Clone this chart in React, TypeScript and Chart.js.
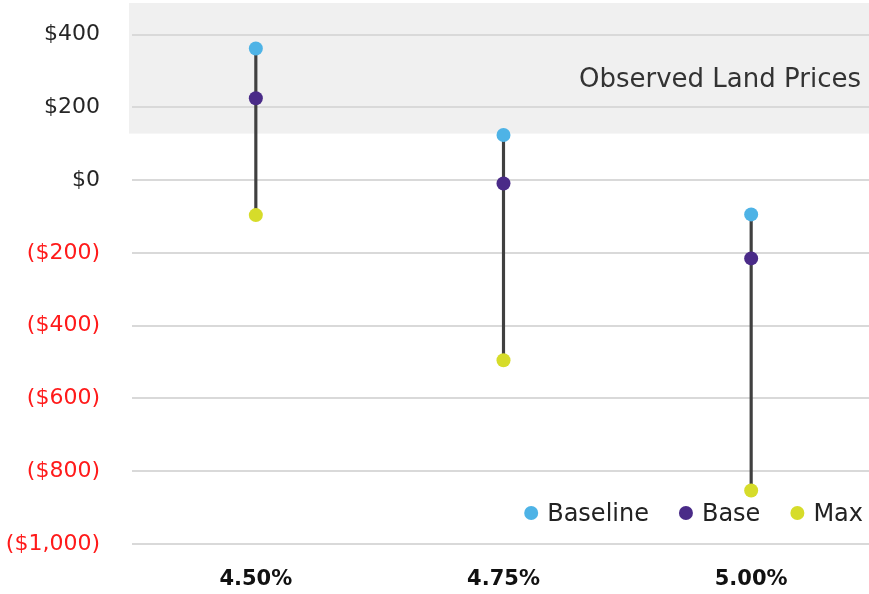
import React, { useEffect, useRef } from "react";
import { Chart, registerables } from "chart.js";

Chart.register(...registerables);

// Land value ranges per discount rate
const categories = ["4.50%", "4.75%", "5.00%"];
const baselineValues = [362, 124, -94];
const baseValues = [225, -9, -215];
const maxValues = [-96, -495, -853];

const seriesLabels = ["Baseline", "Base", "Max"];
const seriesColors = ["#4eb3e6", "#4a2b88", "#d6dc2a"];

// Y axis range and the observed land price band
const yMin = -1000;
const yMax = 487;
const yStep = 200;
const observedBand = [128, 487];
const observedLabel = "Observed Land Prices";

const FONT = "'DejaVu Sans', sans-serif";

const formatMoney = (v: number) =>
  v < 0 ? `($${Math.abs(v).toLocaleString("en-US")})` : `$${v.toLocaleString("en-US")}`;

// Shaded band with its caption, drawn beneath the gridlines
const bandPlugin = {
  id: "observedBand",
  beforeDraw(chart: any) {
    const { ctx, chartArea, scales } = chart;
    const y = scales.y;
    const top = y.getPixelForValue(observedBand[1]);
    const bottom = y.getPixelForValue(observedBand[0]);
    ctx.save();
    ctx.fillStyle = "#f0f0f0";
    ctx.fillRect(chartArea.left - 3, top, chartArea.right - chartArea.left + 3, bottom - top);
    ctx.font = `26px ${FONT}`;
    ctx.fillStyle = "#333333";
    ctx.textAlign = "right";
    ctx.textBaseline = "middle";
    ctx.fillText(observedLabel, 861, (y.getPixelForValue(400) + y.getPixelForValue(200)) / 2 + 9);
    ctx.restore();
  },
};

// Legend drawn inside the plot, bottom right
const innerLegendPlugin = {
  id: "innerLegend",
  afterDraw(chart: any) {
    const { ctx, chartArea } = chart;
    const items = chart.data.datasets.filter((d: any) => seriesLabels.includes(d.label));
    ctx.save();
    ctx.font = `24px ${FONT}`;
    ctx.textBaseline = "middle";
    ctx.textAlign = "left";
    const yc = chartArea.bottom - 31;
    const dotToText = 16;
    const gap = 37;
    let x = 863;
    const placed: { x: number; label: string; color: string }[] = [];
    for (let i = items.length - 1; i >= 0; i--) {
      const w = ctx.measureText(items[i].label).width;
      const textX = x - w;
      placed.unshift({ x: textX, label: items[i].label, color: items[i].backgroundColor });
      x = textX - dotToText - gap;
    }
    for (const p of placed) {
      ctx.fillStyle = p.color;
      ctx.beginPath();
      ctx.arc(p.x - dotToText, yc, 7, 0, Math.PI * 2);
      ctx.fill();
      ctx.fillStyle = "#222222";
      ctx.fillText(p.label, p.x, yc + 2);
    }
    ctx.restore();
  },
};

export default function App() {
  const canvasRef = useRef<HTMLCanvasElement | null>(null);

  useEffect(() => {
    if (!canvasRef.current) return;
    const pointSeries = [baselineValues, baseValues, maxValues].map((data, i) => ({
      type: "line" as const,
      label: seriesLabels[i],
      data,
      showLine: false,
      backgroundColor: seriesColors[i],
      borderColor: seriesColors[i],
      pointRadius: 7,
      pointHoverRadius: 7,
      pointBorderWidth: 0,
      order: 0,
    }));
    const stems = {
      type: "bar" as const,
      label: "range",
      data: categories.map((_, i) => [maxValues[i], baselineValues[i]]),
      backgroundColor: "#404040",
      borderWidth: 0,
      barThickness: 2.5,
      order: 1,
    };

    const chart = new Chart(canvasRef.current, {
      type: "bar",
      data: { labels: categories, datasets: [stems as any, ...pointSeries] },
      plugins: [bandPlugin, innerLegendPlugin],
      options: {
        responsive: false,
        animation: false,
        layout: { padding: 0 },
        plugins: {
          legend: { display: false },
          tooltip: { enabled: false },
        },
        scales: {
          x: {
            grid: { display: false, drawTicks: false },
            border: { display: false },
            ticks: {
              color: "#111111",
              font: { family: FONT, size: 21, weight: "bold" },
              padding: 23,
            },
            afterFit(scale: any) {
              scale.height = 50;
              scale.paddingLeft = 0;
              scale.paddingRight = 0;
            },
          },
          y: {
            min: yMin,
            max: yMax,
            grid: { color: "#d9d9d9", lineWidth: 2, drawTicks: false },
            border: { display: false },
            ticks: {
              stepSize: yStep,
              padding: 32,
              font: { family: FONT, size: 22 },
              color: (ctx: any) => (ctx.tick && ctx.tick.value < 0 ? "#ff1a1a" : "#262626"),
              callback: (v: any) => formatMoney(Number(v)),
            },
            afterBuildTicks(scale: any) {
              scale.ticks = scale.ticks.filter((t: any) => t.value % yStep === 0);
            },
            afterFit(scale: any) {
              scale.width = 132;
              scale.paddingTop = 0;
              scale.paddingBottom = 0;
            },
          },
        },
      },
    });
    return () => chart.destroy();
  }, []);

  return (
    <div
      style={{
        position: "absolute",
        left: 0,
        top: 0,
        width: 869,
        height: 594,
        overflow: "hidden",
        background: "#ffffff",
      }}
    >
      <canvas
        ref={canvasRef}
        width={882}
        height={598}
        style={{ position: "absolute", left: 0, top: -4 }}
      />
    </div>
  );
}
